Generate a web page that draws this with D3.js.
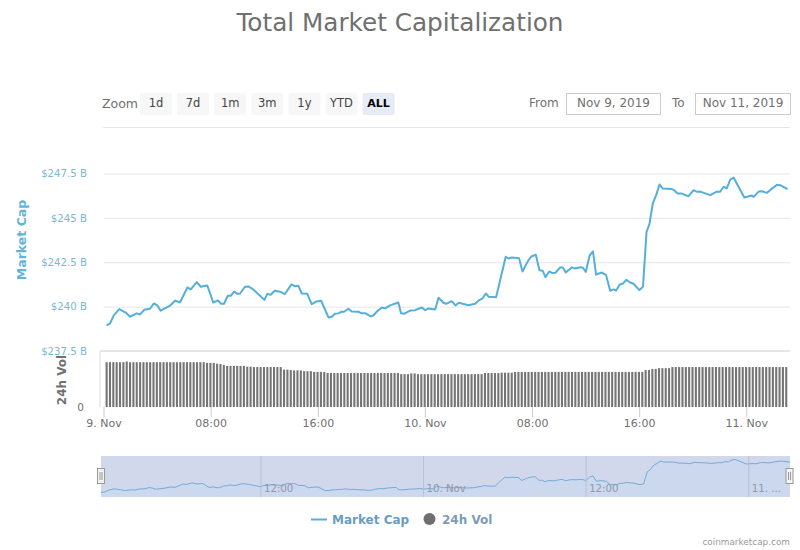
<!DOCTYPE html>
<html>
<head>
<meta charset="utf-8">
<script src="https://d3js.org/d3.v7.min.js"></script>
<style>
  body { margin: 0; background: #fff; }
  svg { display: block; font-family: "DejaVu Sans", sans-serif; }
</style>
</head>
<body>
<svg id="chart" width="800" height="550"></svg>
<script>
// minutes after 9 Nov 00:00
const capMinutes = [
  14, 29, 47, 71, 101, 119, 149, 164, 182, 208, 226, 241, 256, 298, 320, 343, 376, 391, 418, 436,
  465, 492, 512, 527, 540, 557, 570, 585, 600, 612, 634, 649, 671, 721, 734, 749, 767, 791, 812, 842,
  857, 873, 888, 913, 933, 955, 975, 1008, 1023, 1037, 1052, 1067, 1078, 1097, 1112, 1142, 1157, 1172, 1197, 1209,
  1224, 1247, 1262, 1284, 1321, 1333, 1348, 1374, 1396, 1426, 1441, 1456, 1486, 1501, 1523, 1535, 1560, 1577, 1592, 1635,
  1665, 1684, 1698, 1713, 1726, 1759, 1802, 1814, 1829, 1862, 1877, 1904, 1919, 1937, 1953, 1968, 1980, 1997, 2012, 2025,
  2046, 2058, 2071, 2098, 2113, 2136, 2148, 2161, 2178, 2193, 2207, 2233, 2252, 2270, 2285, 2297, 2312, 2327, 2342, 2360,
  2375, 2401, 2417, 2433, 2446, 2461, 2476, 2491, 2506, 2544, 2557, 2572, 2591, 2621, 2644, 2659, 2674, 2718, 2748, 2763,
  2778, 2793, 2808, 2823, 2871, 2905, 2913, 2935, 2950, 2973, 2995, 3017, 3032, 3065
];
// market cap, billions
const capValues = [
  238.94, 239.05, 239.52, 239.86, 239.65, 239.43, 239.62, 239.56, 239.82, 239.88, 240.18, 240.07, 239.77, 240.05, 240.33, 240.25, 241.08, 240.97, 241.38, 241.12,
  241.19, 240.23, 240.35, 240.16, 240.16, 240.61, 240.61, 240.84, 240.72, 240.74, 241.12, 241.14, 240.97, 240.38, 240.72, 240.67, 240.89, 240.84, 240.70, 241.25,
  241.15, 241.17, 240.74, 240.72, 240.14, 240.29, 240.33, 239.39, 239.43, 239.60, 239.62, 239.71, 239.71, 239.88, 239.73, 239.71, 239.62, 239.63, 239.45, 239.50,
  239.71, 239.95, 239.90, 240.07, 240.23, 239.63, 239.60, 239.78, 239.80, 239.95, 239.80, 239.90, 239.84, 240.50, 240.22, 240.16, 240.31, 240.07, 240.22, 240.08,
  240.16, 240.37, 240.46, 240.74, 240.55, 240.53, 242.81, 242.71, 242.77, 242.73, 241.98, 242.62, 242.84, 242.92, 242.05, 242.02, 241.66, 241.98, 241.89, 241.91,
  242.21, 242.21, 241.92, 242.21, 242.15, 242.22, 242.19, 241.96, 242.88, 243.11, 241.81, 241.92, 241.77, 240.89, 240.97, 240.91, 241.23, 241.30, 241.51, 241.36,
  241.29, 240.93, 241.12, 244.21, 244.65, 245.81, 246.28, 246.88, 246.65, 246.63, 246.56, 246.37, 246.37, 246.22, 246.56, 246.47, 246.48, 246.28, 246.48, 246.47,
  246.75, 246.67, 247.16, 247.27, 246.15, 246.26, 246.18, 246.48, 246.50, 246.41, 246.65, 246.86, 246.84, 246.62
];
// 24h volume, billions, one bar per 15 minutes
const volValues = [
  120, 120, 120, 120, 120, 120, 122, 120, 120, 120,
  120, 120, 120, 120, 120, 120, 120, 120, 120, 120,
  120, 120, 120, 120, 120, 120, 120, 120, 120, 120,
  118, 118, 118, 116, 115, 113, 110, 110, 110, 110,
  110, 110, 108, 108, 107, 107, 107, 107, 107, 107,
  107, 107, 107, 100, 100, 99, 98, 98, 98, 96,
  96, 96, 94, 94, 94, 94, 91, 91, 91, 91,
  91, 91, 91, 91, 91, 91, 91, 91, 91, 91,
  91, 91, 91, 91, 91, 91, 91, 91, 88, 88,
  88, 90, 90, 88, 88, 88, 88, 88, 88, 88,
  88, 88, 88, 88, 88, 88, 88, 88, 88, 88,
  88, 88, 88, 91, 91, 91, 91, 91, 92, 92,
  92, 92, 94, 94, 94, 94, 94, 94, 94, 94,
  94, 94, 94, 94, 94, 94, 94, 94, 94, 94,
  94, 94, 94, 94, 94, 94, 94, 94, 94, 94,
  94, 94, 94, 94, 94, 94, 94, 94, 94, 94,
  94, 99, 99, 102, 102, 104, 104, 104, 104, 107,
  107, 107, 107, 107, 107, 107, 107, 107, 107, 107,
  107, 107, 107, 107, 107, 107, 107, 107, 107, 107,
  107, 107, 107, 107, 107, 107, 107, 107, 107, 107,
  107, 107, 107, 107
];
const capTicks = [237.5, 240, 242.5, 245, 247.5];
const timeTicks = [0, 480, 960, 1440, 1920, 2400, 2880];
const timeLabels = ["9. Nov", "08:00", "16:00", "10. Nov", "08:00", "16:00", "11. Nov"];
const navTicks = [720, 1440, 2160, 2880];
const navLabels = ["12:00", "10. Nov", "12:00", "11. ..."];
const zoomButtons = ["1d", "7d", "1m", "3m", "1y", "YTD", "ALL"];

const capData = capMinutes.map((m, i) => ({ minute: m, value: capValues[i] }));
const volData = volValues.map((v, i) => ({ minute: 14 + i * 15, value: v }));

const lineColor = "#54afdb";
const capLabelColor = "#7ab8d4";
const volColor = "#757575";
const greyText = "#707070";

const svg = d3.select("#chart");

const xScale = d3.scaleLinear().domain([0, 3065]).range([103.5, 787.6]);
const yScale = d3.scaleLinear().domain([237.5, 247.5]).range([351, 173.5]);
const volScale = d3.scaleLinear().domain([0, 150]).range([407, 351]);
const navX = d3.scaleLinear().domain([14, 3065]).range([101, 790]);
const navY = d3.scaleLinear().domain([238.94, 247.27]).range([492.5, 459.5]);

// title
svg.append("text")
  .attr("x", 400)
  .attr("y", 31)
  .attr("text-anchor", "middle")
  .attr("fill", "#707070")
  .style("font-size", "24.7px")
  .text("Total Market Capitalization");

// range selector
svg.append("text")
  .attr("x", 102)
  .attr("y", 108)
  .attr("fill", greyText)
  .style("font-size", "12.5px")
  .text("Zoom");

zoomButtons.forEach((label, i) => {
  const bx = 140 + i * 37.1;
  const active = label === "ALL";
  svg.append("rect")
    .attr("x", bx)
    .attr("y", 93)
    .attr("width", 32)
    .attr("height", 22)
    .attr("rx", 2)
    .attr("fill", active ? "#e6ebf5" : "#f7f7f7");
  svg.append("text")
    .attr("x", bx + 16)
    .attr("y", 107)
    .attr("text-anchor", "middle")
    .attr("fill", active ? "#000" : "#444")
    .style("font-size", active ? "11px" : "11.5px")
    .style("font-weight", active ? "bold" : "normal")
    .text(label);
});

[
  { label: "From", labelX: 529, boxX: 566.5, boxW: 94, date: "Nov 9, 2019" },
  { label: "To", labelX: 672, boxX: 695.5, boxW: 95, date: "Nov 11, 2019" }
].forEach((d) => {
  svg.append("text")
    .attr("x", d.labelX)
    .attr("y", 107)
    .attr("fill", greyText)
    .style("font-size", "12px")
    .text(d.label);
  svg.append("rect")
    .attr("x", d.boxX)
    .attr("y", 93.5)
    .attr("width", d.boxW)
    .attr("height", 21)
    .attr("fill", "#fff")
    .attr("stroke", "#cccccc");
  svg.append("text")
    .attr("x", d.boxX + d.boxW / 2)
    .attr("y", 107)
    .attr("text-anchor", "middle")
    .attr("fill", greyText)
    .style("font-size", "12px")
    .text(d.date);
});

svg.append("line")
  .attr("x1", 103)
  .attr("x2", 790)
  .attr("y1", 127.5)
  .attr("y2", 127.5)
  .attr("stroke", "#e6e6e6");

// market cap axis
const capAxis = svg.append("g")
  .attr("transform", "translate(103.5,0)")
  .call(
    d3.axisLeft(yScale)
      .tickValues(capTicks)
      .tickSizeInner(-686.5)
      .tickSizeOuter(0)
      .tickPadding(16.5)
      .tickFormat((d) => `$${d} B`)
  );
capAxis.select(".domain").remove();
capAxis.selectAll("line").attr("stroke", "#e6e6e6");
capAxis.selectAll("text")
  .attr("fill", capLabelColor)
  .style("font-size", "10.2px")
  .style("font-family", "\"DejaVu Sans\", sans-serif");

svg.append("text")
  .attr("transform", "translate(26,240) rotate(-90)")
  .attr("text-anchor", "middle")
  .attr("fill", "#62b5d8")
  .style("font-size", "12.5px")
  .style("font-weight", "bold")
  .text("Market Cap");

// volume panel
svg.append("line")
  .attr("x1", 100)
  .attr("x2", 790)
  .attr("y1", 351)
  .attr("y2", 351)
  .attr("stroke", "#e6e6e6")
  .attr("stroke-width", 2);
svg.append("line")
  .attr("x1", 100)
  .attr("x2", 100)
  .attr("y1", 351)
  .attr("y2", 407)
  .attr("stroke", "#dddddd");

svg.selectAll(".vol-bar")
  .data(volData)
  .enter()
  .append("rect")
  .attr("class", "vol-bar")
  .attr("x", (d) => xScale(d.minute) - 1.05)
  .attr("y", (d) => volScale(d.value))
  .attr("width", 2.1)
  .attr("height", (d) => volScale(0) - volScale(d.value))
  .attr("fill", volColor);

svg.append("text")
  .attr("x", 84)
  .attr("y", 411)
  .attr("text-anchor", "end")
  .attr("fill", greyText)
  .style("font-size", "10.5px")
  .text("0");

svg.append("text")
  .attr("transform", "translate(66,380) rotate(-90)")
  .attr("text-anchor", "middle")
  .attr("fill", greyText)
  .style("font-size", "12px")
  .style("font-weight", "bold")
  .text("24h Vol");

// market cap line
const capLine = d3.line()
  .x((d) => xScale(d.minute))
  .y((d) => yScale(d.value));

svg.append("path")
  .datum(capData)
  .attr("fill", "none")
  .attr("stroke", lineColor)
  .attr("stroke-width", 2)
  .attr("stroke-linejoin", "round")
  .attr("d", capLine);

// time axis
const timeAxis = svg.append("g")
  .attr("transform", "translate(0,407)")
  .call(
    d3.axisBottom(xScale)
      .tickValues(timeTicks)
      .tickSize(10)
      .tickPadding(2)
      .tickFormat((d, i) => timeLabels[i])
  );
timeAxis.select(".domain").remove();
timeAxis.selectAll("line").attr("stroke", "#cccccc");
timeAxis.selectAll("text")
  .attr("fill", greyText)
  .style("font-size", "11px")
  .style("font-family", "\"DejaVu Sans\", sans-serif");

// navigator
const navArea = d3.area()
  .x((d) => navX(d.minute))
  .y0(497)
  .y1((d) => navY(d.value));
const navLine = d3.line()
  .x((d) => navX(d.minute))
  .y((d) => navY(d.value));

svg.append("rect")
  .attr("x", 101)
  .attr("y", 456)
  .attr("width", 689)
  .attr("height", 41)
  .attr("fill", "#d2d8eb");

svg.append("path")
  .datum(capData)
  .attr("fill", "#bcd8f2")
  .attr("fill-opacity", 0.3)
  .attr("d", navArea);

svg.append("path")
  .datum(capData)
  .attr("fill", "none")
  .attr("stroke", "#74abd8")
  .attr("stroke-width", 1)
  .attr("d", navLine);

const navAxis = svg.append("g")
  .attr("transform", "translate(0,456)")
  .call(
    d3.axisBottom(navX)
      .tickValues(navTicks)
      .tickSize(41)
      .tickPadding(0)
      .tickFormat((d, i) => navLabels[i])
  );
navAxis.select(".domain").remove();
navAxis.selectAll("line").attr("stroke", "#b9bfd4");
navAxis.selectAll("text")
  .attr("y", 36)
  .attr("dy", 0)
  .attr("dx", 3)
  .attr("text-anchor", "start")
  .attr("fill", "#8f97ab")
  .style("font-size", "10.2px")
  .style("font-family", "\"DejaVu Sans\", sans-serif");

[97.5, 786].forEach((hx) => {
  svg.append("rect")
    .attr("x", hx)
    .attr("y", 468.5)
    .attr("width", 7)
    .attr("height", 15)
    .attr("fill", "#f2f2f2")
    .attr("stroke", "#999999");
  [2.5, 4.5].forEach((dx) => {
    svg.append("line")
      .attr("x1", hx + dx)
      .attr("x2", hx + dx)
      .attr("y1", 472)
      .attr("y2", 480)
      .attr("stroke", "#999999");
  });
});

// legend
svg.append("line")
  .attr("x1", 311)
  .attr("x2", 327)
  .attr("y1", 519.5)
  .attr("y2", 519.5)
  .attr("stroke", lineColor)
  .attr("stroke-width", 2);
svg.append("text")
  .attr("x", 332)
  .attr("y", 524)
  .attr("fill", "#6b9dc2")
  .style("font-size", "12px")
  .style("font-weight", "bold")
  .text("Market Cap");
svg.append("circle")
  .attr("cx", 429.5)
  .attr("cy", 519)
  .attr("r", 6)
  .attr("fill", "#6f6f6f");
svg.append("text")
  .attr("x", 442)
  .attr("y", 524)
  .attr("fill", "#7d9cb8")
  .style("font-size", "12px")
  .style("font-weight", "bold")
  .text("24h Vol");

svg.append("text")
  .attr("x", 790)
  .attr("y", 545)
  .attr("text-anchor", "end")
  .attr("fill", "#999999")
  .style("font-size", "8.9px")
  .text("coinmarketcap.com");
</script>
</body>
</html>
